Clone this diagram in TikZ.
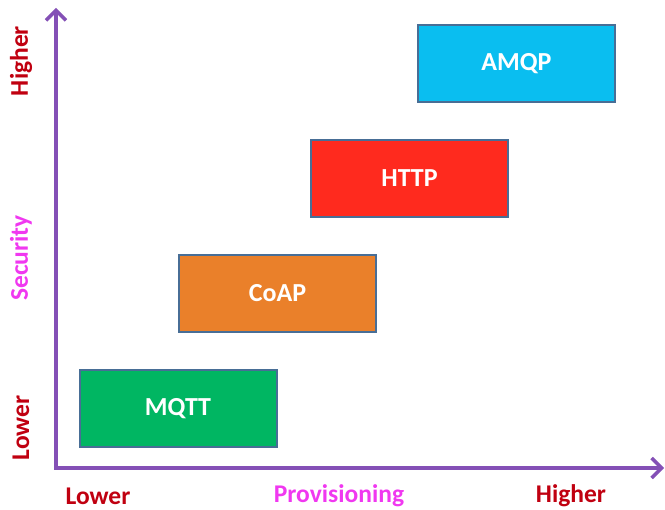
\documentclass[tikz,border=0pt]{standalone}
\usepackage{fontspec}
\setmainfont{Carlito}
\usetikzlibrary{arrows.meta}
\definecolor{axispurple}{RGB}{132,80,182}
\definecolor{boxedge}{RGB}{72,110,150}
\definecolor{amqpc}{RGB}{10,190,240}
\definecolor{httpc}{RGB}{255,42,30}
\definecolor{coapc}{RGB}{234,128,42}
\definecolor{mqttc}{RGB}{0,182,98}
\definecolor{darkredc}{RGB}{192,0,16}
\definecolor{magentac}{RGB}{240,56,240}
\begin{document}
\begin{tikzpicture}[x=1pt,y=-1pt,
  proto/.style={draw=boxedge,line width=2pt,minimum width=197pt,minimum height=77pt,
    text=white,font=\fontsize{26}{30}\selectfont\bfseries,inner sep=0pt},
  axis/.style={draw=axispurple,line width=4pt,
    -{Straight Barb[length=10pt,width=20pt,line width=3.5pt]}},
  lab/.style={font=\fontsize{25.5}{30}\selectfont\bfseries,inner sep=0pt}]
\useasboundingbox (0,0) rectangle (665,510);
\coordinate (o) at (56,468);
\coordinate (ytip) at (56,8);
\coordinate (xtip) at (664,468);
\draw[axis] ([yshift=2pt]o) -- (ytip);
\draw[axis] ([xshift=-2pt]o) -- (xtip);
\node[proto,fill=amqpc] (amqp) at (516.5,63.5) {AMQP};
\node[proto,fill=httpc] (http) at (409.5,178.5) {HTTP};
\node[proto,fill=coapc] (coap) at (277.5,293.5) {CoAP};
\node[proto,fill=mqttc] (mqtt) at (178,408.5) {MQTT};
\node[lab,text=darkredc,rotate=90] (yhigh) at (21,61) {Higher};
\node[lab,text=magentac,rotate=90] (ysec) at (21,258) {Security};
\node[lab,text=darkredc,rotate=90] (ylow) at (21,428) {Lower};
\node[lab,text=darkredc] (xlow) at (98,496) {Lower};
\node[lab,text=magentac] (xprov) at (339,496) {Provisioning};
\node[lab,text=darkredc] (xhigh) at (571,496) {Higher};
\end{tikzpicture}
\end{document}
